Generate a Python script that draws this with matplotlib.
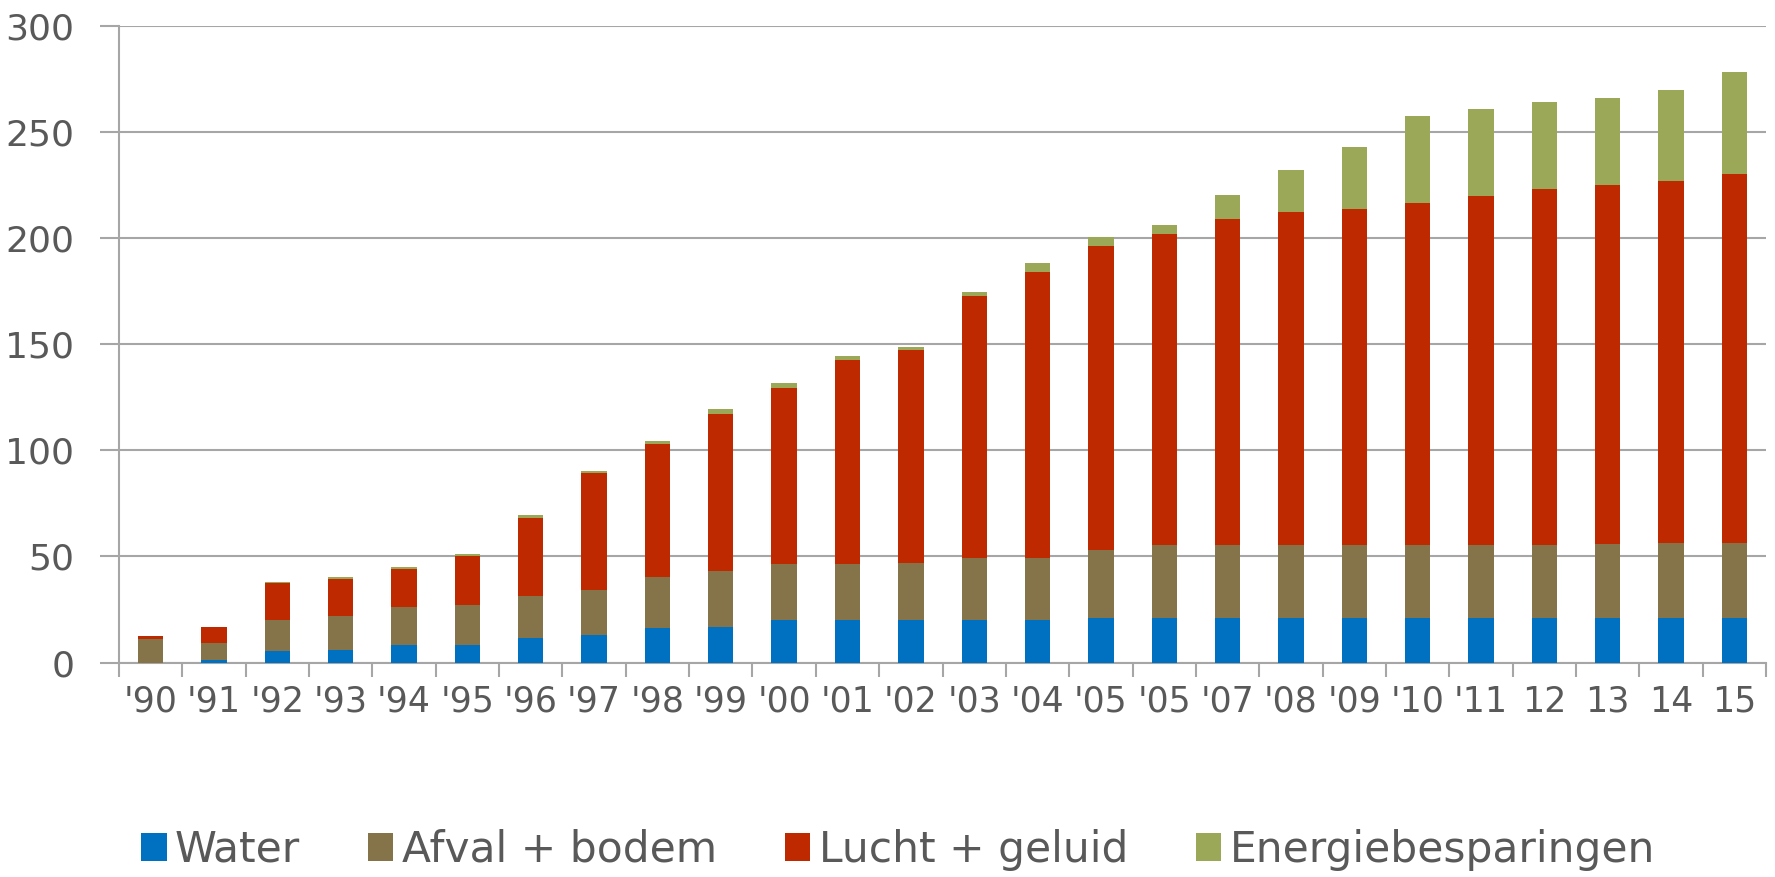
import matplotlib
matplotlib.use("Agg")
import matplotlib.pyplot as plt
import numpy as np

years = ["'90", "'91", "'92", "'93", "'94", "'95", "'96", "'97", "'98", "'99",
         "'00", "'01", "'02", "'03", "'04", "'05", "'05", "'07", "'08", "'09",
         "'10", "'11", "12", "13", "14", "15"]
water = [0, 1.3, 5.4, 6.1, 8.2, 8.2, 11.5, 13.0, 16.2, 16.9,
         19.9, 19.9, 19.9, 19.9, 19.9, 21.0, 21.0, 21.0, 21.0, 21.0,
         21.0, 21.0, 21.0, 21.0, 21.0, 21.0]
afval = [11.0, 7.8, 14.5, 16.0, 17.8, 18.9, 19.9, 21.2, 24.1, 26.4,
         26.6, 26.6, 27.1, 29.5, 29.5, 32.0, 34.2, 34.2, 34.2, 34.2,
         34.2, 34.2, 34.2, 34.8, 35.5, 35.5]
lucht = [1.3, 7.8, 17.5, 17.1, 17.9, 22.9, 36.8, 55.2, 62.9, 73.8,
         82.7, 95.9, 100.4, 123.1, 134.6, 143.1, 146.7, 153.9, 157.1, 158.4,
         161.5, 164.5, 168.0, 169.3, 170.6, 173.6]
energie = [0.2, 0, 0.6, 1.1, 1.1, 1.1, 1.1, 1.1, 1.3, 2.4,
           2.4, 2.0, 1.5, 2.0, 4.1, 4.3, 4.4, 11.0, 20.0, 29.5,
           40.7, 40.9, 41.1, 41.1, 42.6, 48.0]

series = [("Water", water, "#0070C0"),
          ("Afval + bodem", afval, "#85744A"),
          ("Lucht + geluid", lucht, "#BF2900"),
          ("Energiebesparingen", energie, "#9BA857")]

grey = "#595959"
linegrey = "#A6A6A6"

fig = plt.figure(figsize=(17.75, 8.77), dpi=100)
ax = fig.add_axes([0.067, 0.2445, 0.928, 0.726])

x = np.arange(len(years))
bottom = np.zeros(len(years))
for name, vals, col in series:
    ax.bar(x, vals, width=0.4, bottom=bottom, color=col, label=name, zorder=3)
    bottom += np.array(vals)

ax.set_xlim(-0.5, len(years) - 0.5)
ax.set_ylim(0, 300)
ax.set_yticks(range(0, 301, 50))
ax.yaxis.grid(True, color=linegrey, linewidth=1.5, zorder=0)
ax.tick_params(axis='y', length=14, width=1.5, color=linegrey, labelsize=26,
               labelcolor=grey, pad=18)

# ticks between categories, labels in the middle
ax.set_xticks(np.arange(-0.5, len(years)), minor=False)
ax.set_xticklabels([])
ax.set_xticks(x, minor=True)
ax.set_xticklabels(years, minor=True)
ax.tick_params(axis='x', which='major', length=10, width=1.5, color=linegrey)
ax.tick_params(axis='x', which='minor', length=0, labelsize=25,
               labelcolor=grey, pad=16)

for s in ['top', 'right']:
    ax.spines[s].set_visible(False)
for s in ['left', 'bottom']:
    ax.spines[s].set_color(linegrey)
    ax.spines[s].set_linewidth(1.5)

fig.legend(loc='center', bbox_to_anchor=(0.506, 0.031), ncol=4, frameon=False,
           fontsize=30.5, labelcolor=grey, handlelength=0.6, handleheight=0.65,
           handletextpad=0.2, columnspacing=1.6, borderaxespad=0)

fig.savefig("out.png", dpi=100)
